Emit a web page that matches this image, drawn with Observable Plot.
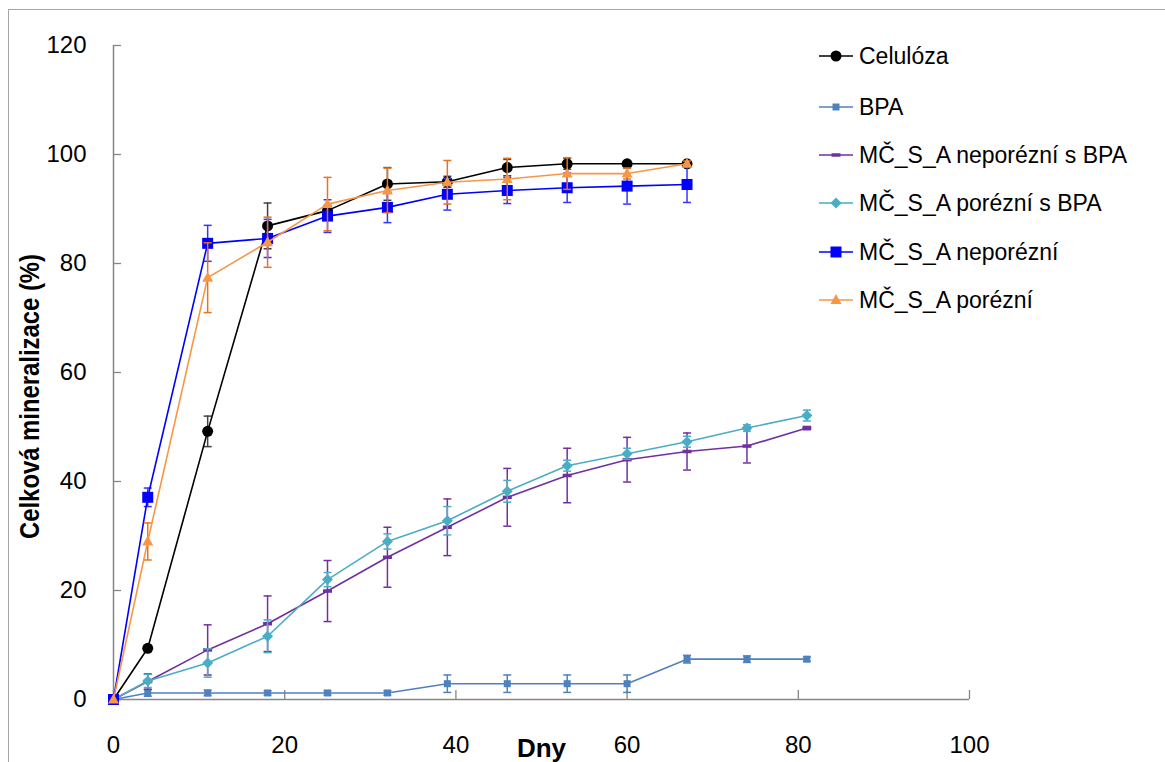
<!DOCTYPE html>
<html><head><meta charset="utf-8">
<script src="https://cdn.jsdelivr.net/npm/d3@7"></script>
<script src="https://cdn.jsdelivr.net/npm/@observablehq/plot@0.6"></script>
<style>
body{margin:0;background:#fff;}
#wrap{position:relative;width:1165px;height:762px;overflow:hidden;background:#fff;}
#frame{position:absolute;left:8px;top:9px;width:1300px;height:900px;border:1px solid #A6A6A6;box-sizing:border-box;}
#chart{position:absolute;left:0;top:0;}
#legend{position:absolute;left:818px;top:0;font-family:"Liberation Sans",Arial,sans-serif;font-size:23px;color:#000;}
.row{position:absolute;left:0;height:30px;display:flex;align-items:center;white-space:nowrap;}
.row svg{margin-right:5px;}
</style></head><body>
<div id="wrap"><div id="frame"></div><div id="chart"></div><div id="legend"></div></div>
<script>
// ---- data ----
const days = [0,4,11,18,25,32,39,46,53,60,67,74,81];
const celuloza      = [0,9.4,49.2,86.9,89.7,94.6,95.0,97.6,98.3,98.3,98.3];
const celulozaErr   = [0,0.5,2.8,4.2,1.0,3.0,1.0,1.5,1.0,0.5,0.5];
const bpa           = [0,1.2,1.2,1.2,1.2,1.2,2.9,2.9,2.9,2.9,7.4,7.4,7.4];
const bpaErr        = [0,0.6,0.5,0.4,0.4,0.4,1.6,1.6,1.6,1.6,0.7,0.6,0.4];
const neporezniBpa    = [0,3.3,9.1,13.9,19.9,26.1,31.6,37.1,41.1,44.0,45.5,46.5,49.8];
const neporezniBpaErr = [0,1.4,4.6,5.1,5.6,5.5,5.2,5.3,5.0,4.1,3.4,3.1,0.3];
const porezniBpa      = [0,3.4,6.7,11.6,22.0,29.0,32.8,38.2,42.9,45.1,47.3,49.8,52.1];
const porezniBpaErr   = [0,1.2,2.6,3.0,1.3,1.4,2.6,2.0,1.0,1.0,1.0,0.6,1.0];
const neporezni     = [0,37.1,83.7,84.6,88.7,90.3,92.7,93.4,93.9,94.2,94.5];
const neporezniErr  = [0,1.7,3.3,3.5,3.0,2.8,2.9,2.4,2.7,3.3,3.3];
const porezni       = [0,29.0,77.4,83.9,90.9,93.4,94.9,95.5,96.5,96.5,98.3];
const porezniErr    = [0,3.4,6.4,4.6,4.9,4.1,4.0,3.8,2.9,1.0,0.5];

const seriesNames = ["Celulóza","BPA","MČ_S_A neporézní s BPA","MČ_S_A porézní s BPA","MČ_S_A neporézní","MČ_S_A porézní"];
const seriesValues = [celuloza,bpa,neporezniBpa,porezniBpa,neporezni,porezni];
const seriesErrors = [celulozaErr,bpaErr,neporezniBpaErr,porezniBpaErr,neporezniErr,porezniErr];
const seriesColors = ["#000000","#4F81BD","#7030A0","#4BACC6","#0000FF","#F79646"];
const errorColors  = ["#404040","#4F81BD","#7030A0","#4BACC6","#3535FF","#E8731C"];
const xTicks = [0,20,40,60,80,100];
const yTicks = [0,20,40,60,80,100,120];
const xLabel = "Dny";
const yLabel = "Celková mineralizace (%)";

// ---- symbols ----
const sq = s => ({draw(c){c.rect(-s/2,-s/2,s,s);}});
const diamond = s => ({draw(c){c.moveTo(0,-s/2);c.lineTo(s/2,0);c.lineTo(0,s/2);c.lineTo(-s/2,0);c.closePath();}});
const tri = s => ({draw(c){const h=s*0.9;c.moveTo(0,-h*0.6);c.lineTo(s/2,h*0.4);c.lineTo(-s/2,h*0.4);c.closePath();}});
const circ = s => ({draw(c){c.moveTo(s/2,0);c.arc(0,0,s/2,0,2*Math.PI);}});
const dash = (w,h) => ({draw(c){c.rect(-w/2,-h/2,w,h);}});
const cap = w => ({draw(c){c.moveTo(-w/2,0);c.lineTo(w/2,0);}});
const markerSyms = [circ(11), sq(7), dash(9,3.5), diamond(11), sq(11), tri(11)];

const rows = [];
seriesValues.forEach((vals,i)=>vals.forEach((v,j)=>rows.push({i, s:seriesNames[i], day:days[j], v, e:seriesErrors[i][j]})));

const marks = [
  Plot.axisY(yTicks,{tickSize:-8, stroke:"#868686", strokeWidth:1.3, tickFormat:()=>"", label:null}),
  Plot.axisY(yTicks,{tickSize:0, tickPadding:27, fontSize:24, label:null}),
  Plot.axisX(xTicks,{tickSize:-9, stroke:"#868686", strokeWidth:1.3, tickFormat:()=>"", label:null}),
  Plot.axisX(xTicks,{tickSize:0, tickPadding:36, fontSize:24, label:null}),
  Plot.ruleX([0],{stroke:"#868686", strokeWidth:1.5}),
  Plot.ruleY([0],{stroke:"#868686", strokeWidth:1.5}),
  Plot.text([yLabel],{text:d=>d, frameAnchor:"left", textAnchor:"middle", dx:-83, dy:24, rotate:-90, fontSize:27, fontWeight:"bold", className:"ytitle"}),
  Plot.text([xLabel],{text:d=>d, frameAnchor:"bottom", dy:57, fontSize:26, fontWeight:"bold"})
];
seriesNames.forEach((name,i)=>{
  const d = rows.filter(r=>r.i===i);
  const de = d.filter(r=>r.e>0);
  marks.push(Plot.ruleX(de,{x:"day", y1:r=>r.v-r.e, y2:r=>r.v+r.e, stroke:errorColors[i], strokeWidth:1.5}));
  marks.push(Plot.dot(de,{x:"day", y:r=>r.v+r.e, symbol:cap(8), fill:"none", stroke:errorColors[i], strokeWidth:1.5}));
  marks.push(Plot.dot(de,{x:"day", y:r=>r.v-r.e, symbol:cap(8), fill:"none", stroke:errorColors[i], strokeWidth:1.5}));
  marks.push(Plot.line(d,{x:"day", y:"v", stroke:seriesColors[i], strokeWidth:1.6}));
  marks.push(Plot.dot(d,{x:"day", y:"v", symbol:markerSyms[i], fill:seriesColors[i], stroke:"none"}));
});

const chart = Plot.plot({
  width:1165, height:762,
  marginLeft:113, marginRight:196, marginTop:45, marginBottom:63,
  x:{domain:[0,100]},
  y:{domain:[0,120]},
  style:{fontFamily:"'Liberation Sans', Arial, sans-serif", fontSize:"24px", color:"#000", background:"transparent", overflow:"visible"},
  marks
});
// condense the rotated axis title like the original
d3.select(chart).selectAll("text").filter(function(){return this.textContent===yLabel;})
  .attr("textLength",285).attr("lengthAdjust","spacingAndGlyphs");
document.getElementById("chart").appendChild(chart);

// ---- legend ----
const legendY = [56,107,155,203,252,300];
const legend = d3.select("#legend");
seriesNames.forEach((name,i)=>{
  const row = legend.append("div").attr("class","row").style("top",(legendY[i]-15)+"px");
  const svg = row.append("svg").attr("width",36).attr("height",30);
  svg.append("line").attr("x1",1).attr("x2",35).attr("y1",15).attr("y2",15).attr("stroke",seriesColors[i]).attr("stroke-width",1.6);
  const p = d3.path(); markerSyms[i].draw(p);
  svg.append("path").attr("d",p.toString()).attr("transform","translate(18,15)").attr("fill",seriesColors[i]);
  row.append("span").text(name);
});
</script>
</body></html>
